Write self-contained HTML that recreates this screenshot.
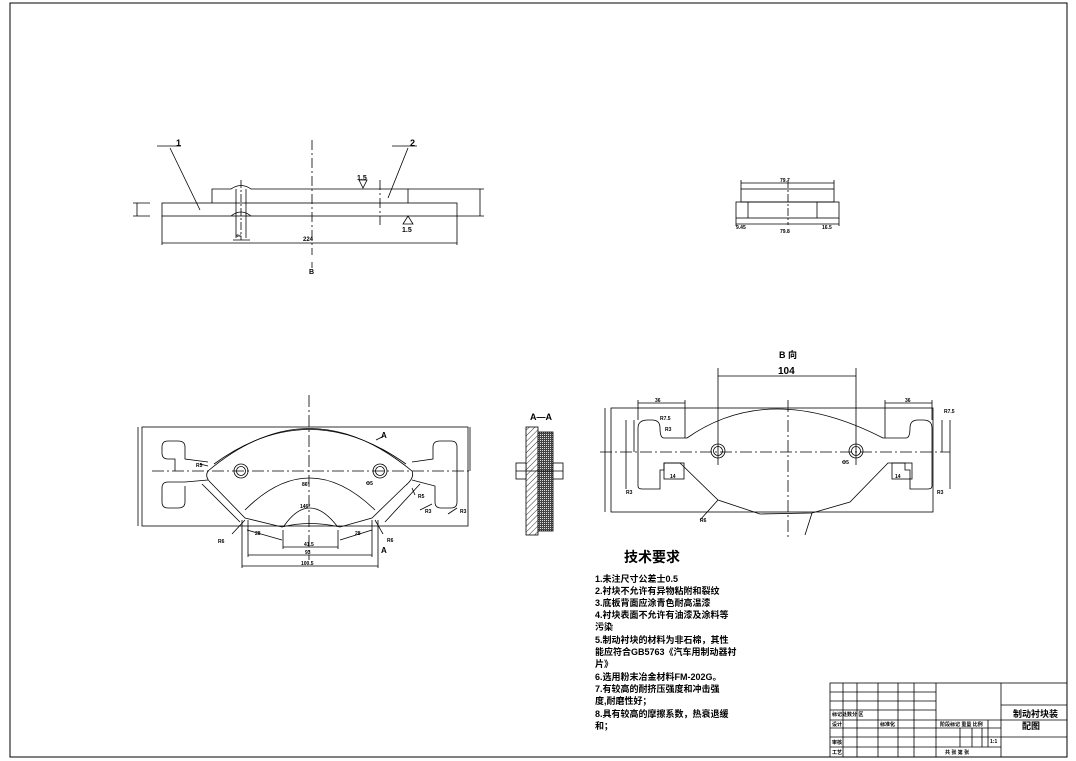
<!DOCTYPE html>
<html><head><meta charset="utf-8"><style>
html,body{margin:0;padding:0;background:#fff;}
svg{display:block;}
text{font-family:"Liberation Sans","Noto Sans CJK SC",sans-serif;fill:#000;font-weight:bold;}
</style></head><body>
<svg width="1076" height="761" viewBox="0 0 1076 761" xmlns="http://www.w3.org/2000/svg">
<defs>
<pattern id="hat" width="4" height="4" patternUnits="userSpaceOnUse" patternTransform="rotate(45)"><line x1="0" y1="0" x2="0" y2="4" stroke="#000" stroke-width="0.8"/></pattern>
<pattern id="dot" width="2" height="2" patternUnits="userSpaceOnUse"><rect width="2" height="2" fill="#444"/><rect width="1" height="1" fill="#ddd"/></pattern>
</defs>
<g fill="none" stroke="#000" stroke-width="0.8">
<rect x="10" y="3" width="1057" height="754" stroke-width="1"/>

<!-- top section view -->
<rect x="162" y="203" width="295" height="13"/>
<path d="M212 203 V189 H231 M251 189 H408 V203"/>
<path d="M231 189 Q241 182 251 189 M231 216 Q241 208 251 216"/>
<line x1="236" y1="189" x2="236" y2="238"/><line x1="246" y1="189" x2="246" y2="238"/>
<line x1="241" y1="180" x2="241" y2="240" stroke-dasharray="8 2 2 2"/>
<line x1="312" y1="140" x2="312" y2="255" stroke-dasharray="10 3 2 3"/>
<line x1="380" y1="180" x2="380" y2="225" stroke-dasharray="10 3 2 3"/>
<path d="M162 216 V245 M457 216 V245 M162 243 H457"/>
<path d="M408 189 H484 M457 216 H484 M480 189 V216"/>
<path d="M133 203 H150 M133 216 H150 M137 203 V216"/>
<path d="M170 148 L200 210 M157 146 H181 M392 146 H417 M408 148 L388 198"/>
<path d="M233 240 H250"/>
<line x1="312" y1="262" x2="312" y2="268"/>
<path d="M359 180 L363 188 L367 180 Z M403 224 L408 216 L413 224 Z"/>

<!-- top right view -->
<rect x="741" y="189" width="93" height="13"/>
<rect x="736" y="202" width="103" height="16"/>
<line x1="748" y1="202" x2="748" y2="218"/><line x1="817" y1="202" x2="817" y2="218"/>
<line x1="788" y1="180" x2="788" y2="225" stroke-dasharray="8 2 2 2"/>
<path d="M741 180 V189 M834 180 V189 M741 183 H834 M736 218 V226 M839 218 V226 M736 224 H839"/>

<!-- main front view -->
<rect x="142" y="427" width="326" height="99"/>
<line x1="152" y1="471" x2="470" y2="471" stroke-dasharray="12 3 2 3"/>
<line x1="309" y1="395" x2="309" y2="560" stroke-dasharray="12 3 2 3"/>
<path d="M208 462 L185 459 V447 Q185 441 178 441 H168 Q162 441 162 447 V453 Q162 459 168 459 H175 Q175 462 175 465 V471"/>
<path d="M208 480 L185 482 H168 Q162 482 162 488 V502 Q162 508 168 508 H178 Q185 508 185 502 V486"/>
<path d="M412 462 L433 459 V447 Q433 441 440 441 H451 Q457 441 457 447 V502 Q457 508 451 508 H441 Q435 508 435 502 V486 L412 480"/>
<path d="M208 471 Q309 386 412 471 Q415 478 405 486 L372 518 L340 527 Q309 520 282 527 L245 518 L212 484 Q204 477 208 471 Z"/>
<path d="M214 464 Q309 395 406 464"/>
<path d="M245 510 Q309 446 375 510"/>
<path d="M284 526 Q309 490 337 526"/>
<circle cx="241" cy="471" r="7"/><circle cx="241" cy="471" r="4.5"/>
<circle cx="380" cy="471" r="7"/><circle cx="380" cy="471" r="4.5"/>
<path d="M283 530 V549 M338 530 V549 M283 547 H338 M248 520 V557 M372 520 V557 M248 555 H372 M242 520 V568 M378 520 V568 M242 566 H378"/>
<path d="M202 484 L240 522 M420 484 L385 522 M247 530 L282 540 M340 540 L372 530"/>
<path d="M142 527 H142 M138 427 V526 M470 427 V471"/>
<path d="M208 466 L200 464 M232 534 L245 520 M383 534 L375 520 M415 495 L412 488 M420 510 L432 504 M448 514 L457 508"/>
<line x1="376" y1="440" x2="384" y2="436"/>

<!-- A-A section -->
<rect x="526" y="427" width="12" height="108" fill="url(#hat)"/>
<rect x="538" y="432" width="15" height="99" fill="url(#dot)"/>
<rect x="516" y="463" width="10" height="16" fill="#fff"/>
<rect x="553" y="463" width="10" height="16" fill="#fff"/>
<line x1="516" y1="471" x2="563" y2="471"/>

<!-- B view -->
<rect x="611" y="408" width="322" height="104"/>
<line x1="600" y1="452" x2="950" y2="452" stroke-dasharray="12 3 2 3"/>
<line x1="788" y1="400" x2="788" y2="540" stroke-dasharray="12 3 2 3"/>
<path d="M638 452 V428 Q638 420 648 420 H652 Q660 420 660 428 Q660 438 664 438 L687 438 Q770 380 883 438 L906 438 Q910 438 910 428 Q910 420 918 420 H923 Q932 420 932 428 V452"/>
<path d="M638 452 V486 Q638 489 642 489 H660 V470 H664 V463 H680 L718 500 L760 514 L812 513 L850 502 L888 463 H905 V470 H910 V489 H928 Q932 489 932 486 V452"/>
<rect x="664" y="463" width="20" height="16"/><rect x="892" y="463" width="20" height="16"/>
<circle cx="718" cy="451" r="7"/><circle cx="718" cy="451" r="4.5"/>
<circle cx="856" cy="451" r="7"/><circle cx="856" cy="451" r="4.5"/>
<path d="M718 368 V465 M856 368 V465 M718 376 H856"/>
<path d="M638 400 V420 M685 400 V438 M638 403 H685 M885 400 V438 M932 400 V420 M885 403 H932"/>
<path d="M605 408 V512 M626 420 V489 M634 420 V452 M942 420 V452 M950 420 V489"/>
<path d="M718 500 L700 520 M812 513 L805 535"/>

<!-- title block -->
<rect x="830" y="683" width="237" height="74"/>
<path d="M830 692 H936 M830 701 H936 M830 710 H936 M830 720 H1067 M830 728 H1001 M830 737 H1067 M830 747 H1001"/>
<path d="M843 683 V757 M857 683 V757 M878 683 V757 M898 683 V757 M914 683 V757 M936 683 V757 M1001 683 V757"/>
<path d="M1001 705 H1067 M960 728 V747 M972 728 V747 M982 728 V747 M988 720 V747"/>
</g>

<g font-size="6">
<text x="176" y="146" font-size="9">1</text>
<text x="410" y="146" font-size="9">2</text>
<text x="309" y="274" font-size="7">B</text>
<text x="303" y="241">224</text>
<text x="236" y="237" font-size="4">Φ6</text>
<text x="357" y="180" font-size="7">1.5</text>
<text x="402" y="232" font-size="7">1.5</text>
<text x="780" y="182" font-size="5">79.7</text>
<text x="736" y="229" font-size="5">9.45</text>
<text x="780" y="233" font-size="5">79.8</text>
<text x="822" y="229" font-size="5">16.5</text>
<text x="302" y="486" font-size="5">86°</text>
<text x="300" y="508" font-size="5">146°</text>
<text x="304" y="546" font-size="5">41.5</text>
<text x="305" y="554" font-size="5">93</text>
<text x="301" y="565" font-size="5">100.5</text>
<text x="255" y="535" font-size="5">28</text>
<text x="355" y="535" font-size="5">28</text>
<text x="218" y="543" font-size="5">R6</text>
<text x="387" y="542" font-size="5">R6</text>
<text x="366" y="485" font-size="5">Φ5</text>
<text x="418" y="498" font-size="5">R5</text>
<text x="425" y="513" font-size="5">R3</text>
<text x="460" y="513" font-size="5">R3</text>
<text x="196" y="467" font-size="5">R5</text>
<text x="530" y="420" font-size="9">A—A</text>
<text x="381" y="438" font-size="8">A</text>
<text x="381" y="553" font-size="8">A</text>
<text x="779" y="358" font-size="9">B 向</text>
<text x="778" y="374" font-size="10">104</text>
<text x="655" y="402" font-size="5">36</text>
<text x="905" y="402" font-size="5">36</text>
<text x="660" y="420" font-size="5">R7.5</text>
<text x="944" y="413" font-size="5">R7.5</text>
<text x="665" y="431" font-size="5">R3</text>
<text x="842" y="464" font-size="5">Φ5</text>
<text x="670" y="478" font-size="5">14</text>
<text x="895" y="478" font-size="5">14</text>
<text x="700" y="522" font-size="5">R6</text>
<text x="626" y="494" font-size="5">R3</text>
<text x="937" y="494" font-size="5">R3</text>
</g>

<g font-family="Liberation Sans,Noto Sans CJK SC,sans-serif" font-weight="bold">
<text x="624" y="562" font-size="14">技术要求</text>
<g font-size="9">
<text x="595" y="582">1.未注尺寸公差士0.5</text>
<text x="595" y="594">2.衬块不允许有异物粘附和裂纹</text>
<text x="595" y="606">3.底板背面应涂青色耐高温漆</text>
<text x="595" y="618">4.衬块表面不允许有油漆及涂料等</text>
<text x="595" y="630">污染</text>
<text x="595" y="643">5.制动衬块的材料为非石棉，其性</text>
<text x="595" y="655">能应符合GB5763《汽车用制动器衬</text>
<text x="595" y="667">片》</text>
<text x="595" y="680">6.选用粉末冶金材料FM-202G。</text>
<text x="595" y="692">7.有较高的耐挤压强度和冲击强</text>
<text x="595" y="704">度,耐磨性好；</text>
<text x="595" y="717">8.具有较高的摩擦系数，热衰退缓</text>
<text x="595" y="729">和；</text>
</g>
<text x="1013" y="717" font-size="9">制动衬块装</text>
<text x="1022" y="729" font-size="9">配图</text>
<g font-size="5">
<text x="832" y="716">标记处数分 区</text>
<text x="832" y="726">设计</text>
<text x="880" y="726">标准化</text>
<text x="832" y="744">审核</text>
<text x="832" y="754">工艺</text>
<text x="940" y="726">阶段标记 重量 比例</text>
<text x="990" y="743">1:1</text>
<text x="945" y="754">共 张 第 张</text>
</g>
</g>
</svg>
</body></html>
